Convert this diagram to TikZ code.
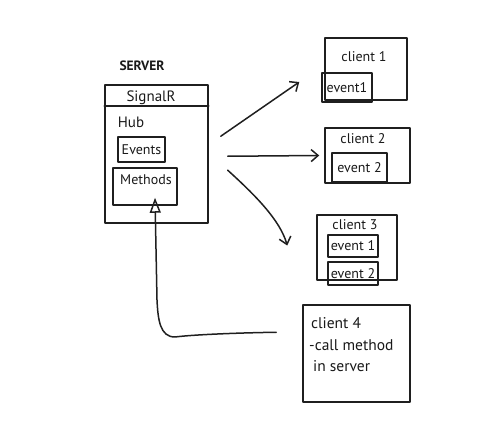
\documentclass[tikz,border=0pt]{standalone}
\usepackage{fontspec}
\setmainfont{PT Sans}
\usetikzlibrary{arrows.meta,calc}
\begin{document}
\begin{tikzpicture}[x=1pt,y=-1pt,
  ink/.style={draw=black!88, line width=1.5pt, line cap=round, line join=round},
  box/.style={ink, inner sep=0pt, rectangle},
  lbl/.style={inner sep=0pt, font=\fontsize{14}{16}\selectfont, text=black!90},
  big/.style={inner sep=0pt, font=\fontsize{15.5}{18}\selectfont, text=black!90},
  arr/.style={ink, -{Straight Barb[length=7pt,width=12pt,line width=1.5pt]}},
  ret/.style={ink, -{Triangle[open,length=15pt,width=11pt,line width=1.5pt]}}]
\useasboundingbox (0,0) rectangle (488,444);

% server
\node[inner sep=0pt, text=black!90, font=\bfseries\fontsize{13.5}{16}\selectfont] (srvlbl) at (142,66) {SERVER};
\node[box, minimum width=103pt, minimum height=138pt] (srv) at (156.5,154) {};
\draw[ink] ($(srv.north west)+(0,22)$) coordinate (sigl) -- ($(srv.north east)+(0,22)$) coordinate (sigr);
\node[lbl, font=\fontsize{15}{17}\selectfont] (sig) at (151,98) {SignalR};
\node[lbl, font=\fontsize{15}{17}\selectfont] (hub) at (131,122) {Hub};
\node[box, minimum width=47pt, minimum height=25pt] (events) at (141.5,149.5) {};
\node[lbl] at (events) {Events};
\node[box, minimum width=64pt, minimum height=37pt] (methods) at (145,186.5) {};
\node[lbl] at (146,180) {Methods};

% client 1
\node[box, minimum width=82pt, minimum height=62pt] (c1) at (366,69) {};
\node[lbl] at (364,57) {client 1};
\node[box, minimum width=50pt, minimum height=29pt] (e1) at (347,87.5) {};
\node[lbl] at (e1) {event1};

% client 2
\node[box, minimum width=85pt, minimum height=55pt] (c2) at (367.5,155.5) {};
\node[lbl] at (363,139) {client 2};
\node[box, minimum width=55pt, minimum height=29pt] (e2) at (359.5,167.5) {};
\node[lbl] at (e2) {event 2};

% client 3
\node[box, minimum width=80pt, minimum height=65pt] (c3) at (357,247.5) {};
\node[lbl] at (355,225) {client 3};
\node[box, minimum width=50pt, minimum height=22pt] (e31) at (353,246) {};
\node[lbl] at (e31) {event 1};
\node[box, minimum width=50pt, minimum height=23pt] (e32) at (353,273.5) {};
\node[lbl] at (e32) {event 2};

% client 4
\node[box, minimum width=107pt, minimum height=97pt] (c4) at (356.5,353.5) {};
\node[big, anchor=west] (t41) at (311,323) {client 4};
\node[big, anchor=west] (t42) at (309,345) {-call method};
\node[big, anchor=west] (t43) at (313,366) {in server};

% arrows from server
\draw[arr] ($(srv.north east)+(12,52)$) -- ($(c1.west)+(-25,13)$);
\draw[arr] ($(srv.north east)+(19,72)$) -- ($(c2.west)+(-5,0)$);
\draw[arr] ($(srv.north east)+(19,86)$) .. controls (255,195) and (280,220) .. ($(c3.west)+(-29,-2)$);

% return from client 4 to methods
\draw[ret] ($(c4.north west)+(-26,28)$) .. controls (230,333) and (190,335) .. (175,337)
  .. controls (160,337) and (158,320) .. (157,300) -- ($(methods.south)+(10,-8)$);
\end{tikzpicture}
\end{document}
